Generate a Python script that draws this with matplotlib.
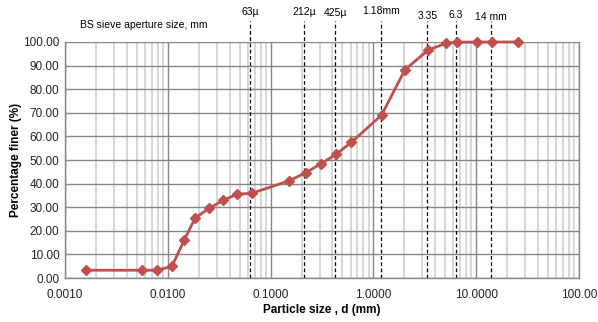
import matplotlib.pyplot as plt
from matplotlib.ticker import FixedLocator, NullFormatter

plt.rcParams['font.family'] = ['Liberation Sans', 'DejaVu Sans']

# particle size (mm) and percentage finer
size_mm = [0.0016, 0.0056, 0.0079, 0.011, 0.0144, 0.0185, 0.0254, 0.0347,
           0.0474, 0.0655, 0.152, 0.219, 0.307, 0.435, 0.61, 1.20, 2.03,
           3.42, 5.12, 6.46, 10.2, 14.3, 25.7]
pct_finer = [3.3, 3.3, 3.3, 5.0, 16.0, 25.5, 29.6, 33.0, 35.5, 35.9, 41.2,
             44.6, 48.3, 52.5, 57.5, 69.0, 88.3, 96.6, 99.5, 99.9, 100.0,
             100.0, 100.0]

# BS sieve apertures
sieve_mm = [0.063, 0.212, 0.425, 1.18, 3.35, 6.3, 14.0]
sieve_lbl = ['63µ', '212µ', '425µ', '1.18mm', '3.35', '6.3', '14 mm']
sieve_lbl_y = [112.7, 112.7, 112.2, 113.0, 111.0, 111.3, 110.5]

x_ticks = [0.001, 0.01, 0.1, 1, 10, 100]
x_ticklbl = ['0.0010', '0.0100', '0.1000', '1.0000', '10.0000', '100.00']
y_ticks = [0, 10, 20, 30, 40, 50, 60, 70, 80, 90, 100]

fig = plt.figure(figsize=(5.98, 3.22), dpi=100)
ax = fig.add_axes([0.1087, 0.1366, 0.8595, 0.733])

ax.set_xscale('log')
ax.set_xlim(0.001, 100)
ax.set_ylim(0, 100)

minors = [m * 10.0 ** e for e in range(-3, 2) for m in range(2, 10)]
ax.xaxis.set_major_locator(FixedLocator(x_ticks))
ax.xaxis.set_minor_locator(FixedLocator(minors))
ax.xaxis.set_minor_formatter(NullFormatter())
ax.set_xticklabels(x_ticklbl)
ax.set_yticks(y_ticks)
ax.set_yticklabels(['%.2f' % v for v in y_ticks])

ax.grid(True, which='major', axis='both', color='#868686', lw=1.0)
ax.grid(True, which='minor', axis='x', color='#cdcdcd', lw=1.1)
ax.set_axisbelow(True)
for s in ax.spines.values():
    s.set_color('#868686')
    s.set_linewidth(1.0)
ax.spines['top'].set_visible(False)
ax.tick_params(which='both', length=0, labelsize=8.5, colors='#222222')
ax.tick_params(axis='x', pad=8)
ax.tick_params(axis='y', pad=4)

for xs, lbl, ly in zip(sieve_mm, sieve_lbl, sieve_lbl_y):
    ax.plot([xs, xs], [0, 109], color='black', lw=0.9, ls=(0, (3, 2)),
            clip_on=False, zorder=2)
    ax.text(xs, ly, lbl, ha='center', va='center', fontsize=7.5)

ax.plot(size_mm, pct_finer, color='#c0504d', lw=2.0, marker='D',
        markersize=5.5, zorder=3, clip_on=False)

ax.text(0.0014, 107.2, 'BS sieve aperture size, mm', ha='left', va='center',
        fontsize=7.5)

ax.set_xlabel('Particle size , d (mm)', fontsize=8.5, fontweight='bold',
              labelpad=2)
ax.set_ylabel('Percentage finer (%)', fontsize=8.5, fontweight='bold',
              labelpad=1)

fig.savefig('out.png', dpi=100)
